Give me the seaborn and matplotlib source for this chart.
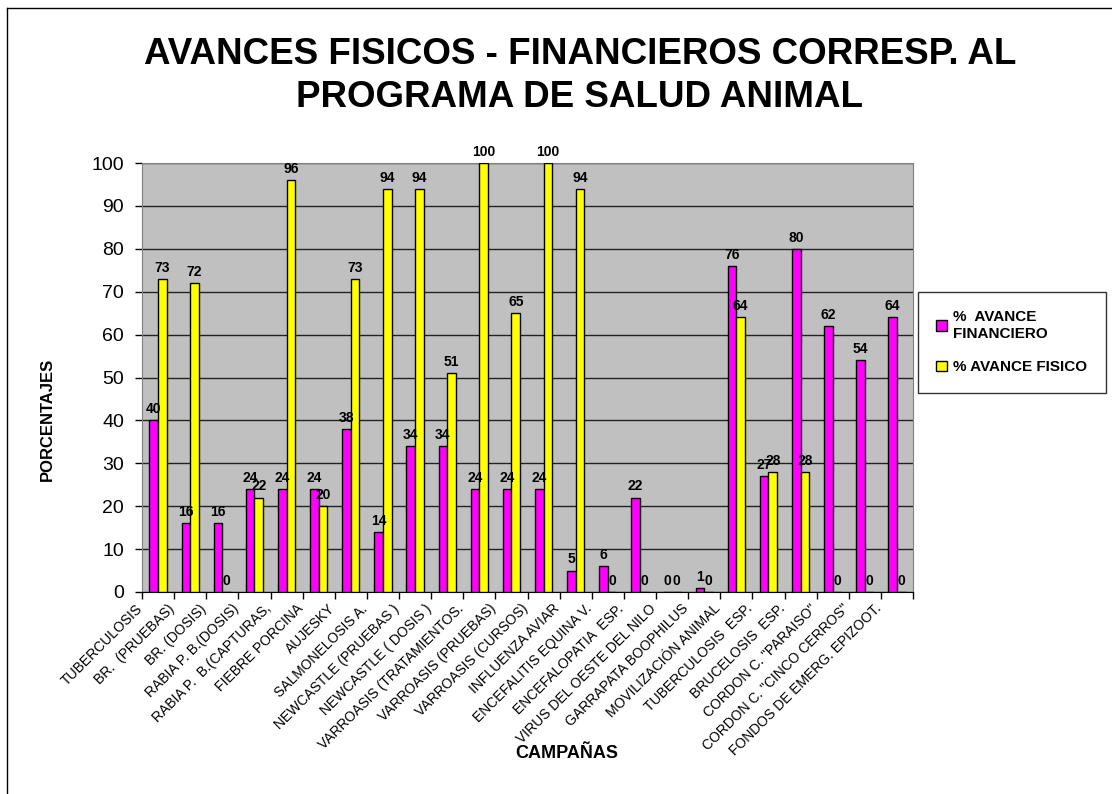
import matplotlib
matplotlib.use("Agg")
import matplotlib.pyplot as plt
import matplotlib.transforms as mtransforms
from matplotlib.lines import Line2D
import numpy as np
import pandas as pd
import seaborn as sns

categorias = [
    "TUBERCULOSIS", "BR.  (PRUEBAS)", "BR. (DOSIS)", "RABIA P. B.(DOSIS)",
    "RABIA P.  B.(CAPTURAS,", "FIEBRE PORCINA", "AUJESKY", "SALMONELOSIS A.",
    "NEWCASTLE (PRUEBAS )", "NEWCASTLE ( DOSIS )", "VARROASIS (TRATAMIENTOS.",
    "VARROASIS (PRUEBAS)", "VARROASIS (CURSOS)", "INFLUENZA AVIAR",
    "ENCEFALITIS EQUINA V.", "ENCEFALOPATIA  ESP.", "VIRUS DEL OESTE DEL NILO",
    "GARRAPATA BOOPHILUS", "MOVILIZACIÓN ANIMAL", "TUBERCULOSIS  ESP.",
    "BRUCELOSIS  ESP.", "CORDON C. \"PARAISO\"", "CORDON C. \"CINCO CERROS\"",
    "FONDOS DE EMERG. EPIZOOT.",
]
avance_financiero = [40, 16, 16, 24, 24, 24, 38, 14, 34, 34, 24, 24, 24, 5,
                     6, 22, 0, 1, 76, 27, 80, 62, 54, 64]
avance_fisico = [73, 72, 0, 22, 96, 20, 73, 94, 94, 51, 100, 65, 100, 94,
                 0, 0, 0, 0, 64, 28, 28, 0, 0, 0]
series = ["%  AVANCE\nFINANCIERO", "% AVANCE FISICO"]
y_ticks = list(range(0, 101, 10))

df = pd.DataFrame({
    "campana": categorias * 2,
    "serie": [series[0]] * len(categorias) + [series[1]] * len(categorias),
    "valor": avance_financiero + avance_fisico,
})

plt.rcParams["font.family"] = ["Liberation Sans", "DejaVu Sans"]

fig = plt.figure(figsize=(11.12, 7.94), dpi=100)
ax = fig.add_axes([142 / 1112, 1 - 592 / 794, 771 / 1112, 429 / 794])
ax.set_facecolor("#C0C0C0")

sns.barplot(data=df, x="campana", y="valor", hue="serie", order=categorias,
            hue_order=series, palette=["#FF00FF", "#FFFF00"], width=0.54,
            gap=0, edgecolor="black", linewidth=1, saturation=1, ax=ax,
            errorbar=None, zorder=3)

for cont in ax.containers:
    ax.bar_label(cont, fmt="%g", padding=3, fontsize=10, fontweight="bold")

ax.set_ylim(0, 100)
ax.set_xlim(-0.5, len(categorias) - 0.5)
ax.set_yticks(y_ticks)
ax.tick_params(axis="y", labelsize=14, length=5, direction="out", width=1,
               pad=8)
ax.yaxis.grid(True, color="#222222", linewidth=1)
ax.set_axisbelow(True)

ax.set_xticks(np.arange(len(categorias)))
ax.set_xticklabels(categorias, rotation=45, ha="right", va="center",
                   rotation_mode="anchor", fontsize=10)
ax.tick_params(axis="x", which="major", length=0, pad=4)
ax.set_xticks(np.arange(-0.5, len(categorias), 1), minor=True)
ax.tick_params(axis="x", which="minor", length=5, width=1)
offset = mtransforms.ScaledTranslation(-18 / 100, -9 / 100, fig.dpi_scale_trans)
for lbl in ax.get_xticklabels():
    lbl.set_transform(lbl.get_transform() + offset)

for s in ["top", "right", "left"]:
    ax.spines[s].set_color("#808080")
ax.spines["bottom"].set_color("black")

ax.set_xlabel("CAMPAÑAS", fontsize=13, fontweight="bold")
ax.xaxis.set_label_coords((567 - 142) / 771, (592 - 745) / 429)
ax.set_ylabel("PORCENTAJES", fontsize=12, fontweight="bold")
ax.yaxis.set_label_coords((55 - 142) / 771, (592 - 419) / 429)

handles, labels = ax.get_legend_handles_labels()
ax.get_legend().remove()
leg = fig.legend(handles, labels, loc="upper left",
                 bbox_to_anchor=(918 / 1112, 1 - 292 / 794),
                 frameon=True, fancybox=False, edgecolor="black",
                 prop={"weight": "bold", "size": 11}, handlelength=0.7,
                 handleheight=0.7, labelspacing=1.3, borderpad=1.2,
                 handletextpad=0.4, borderaxespad=0)
leg.get_frame().set_linewidth(1)

fig.text(580 / 1112, 1 - 76 / 794,
         "AVANCES FISICOS - FINANCIEROS CORRESP. AL\nPROGRAMA DE SALUD ANIMAL",
         ha="center", va="center", fontsize=26.5, fontweight="bold",
         linespacing=1.3)

fig.add_artist(Line2D([7 / 1112, 7 / 1112], [0, 1 - 8 / 794], color="black",
                      lw=1, transform=fig.transFigure))
fig.add_artist(Line2D([7 / 1112, 1], [1 - 8 / 794, 1 - 8 / 794], color="black",
                      lw=1, transform=fig.transFigure))

fig.savefig("out.png", dpi=100)
